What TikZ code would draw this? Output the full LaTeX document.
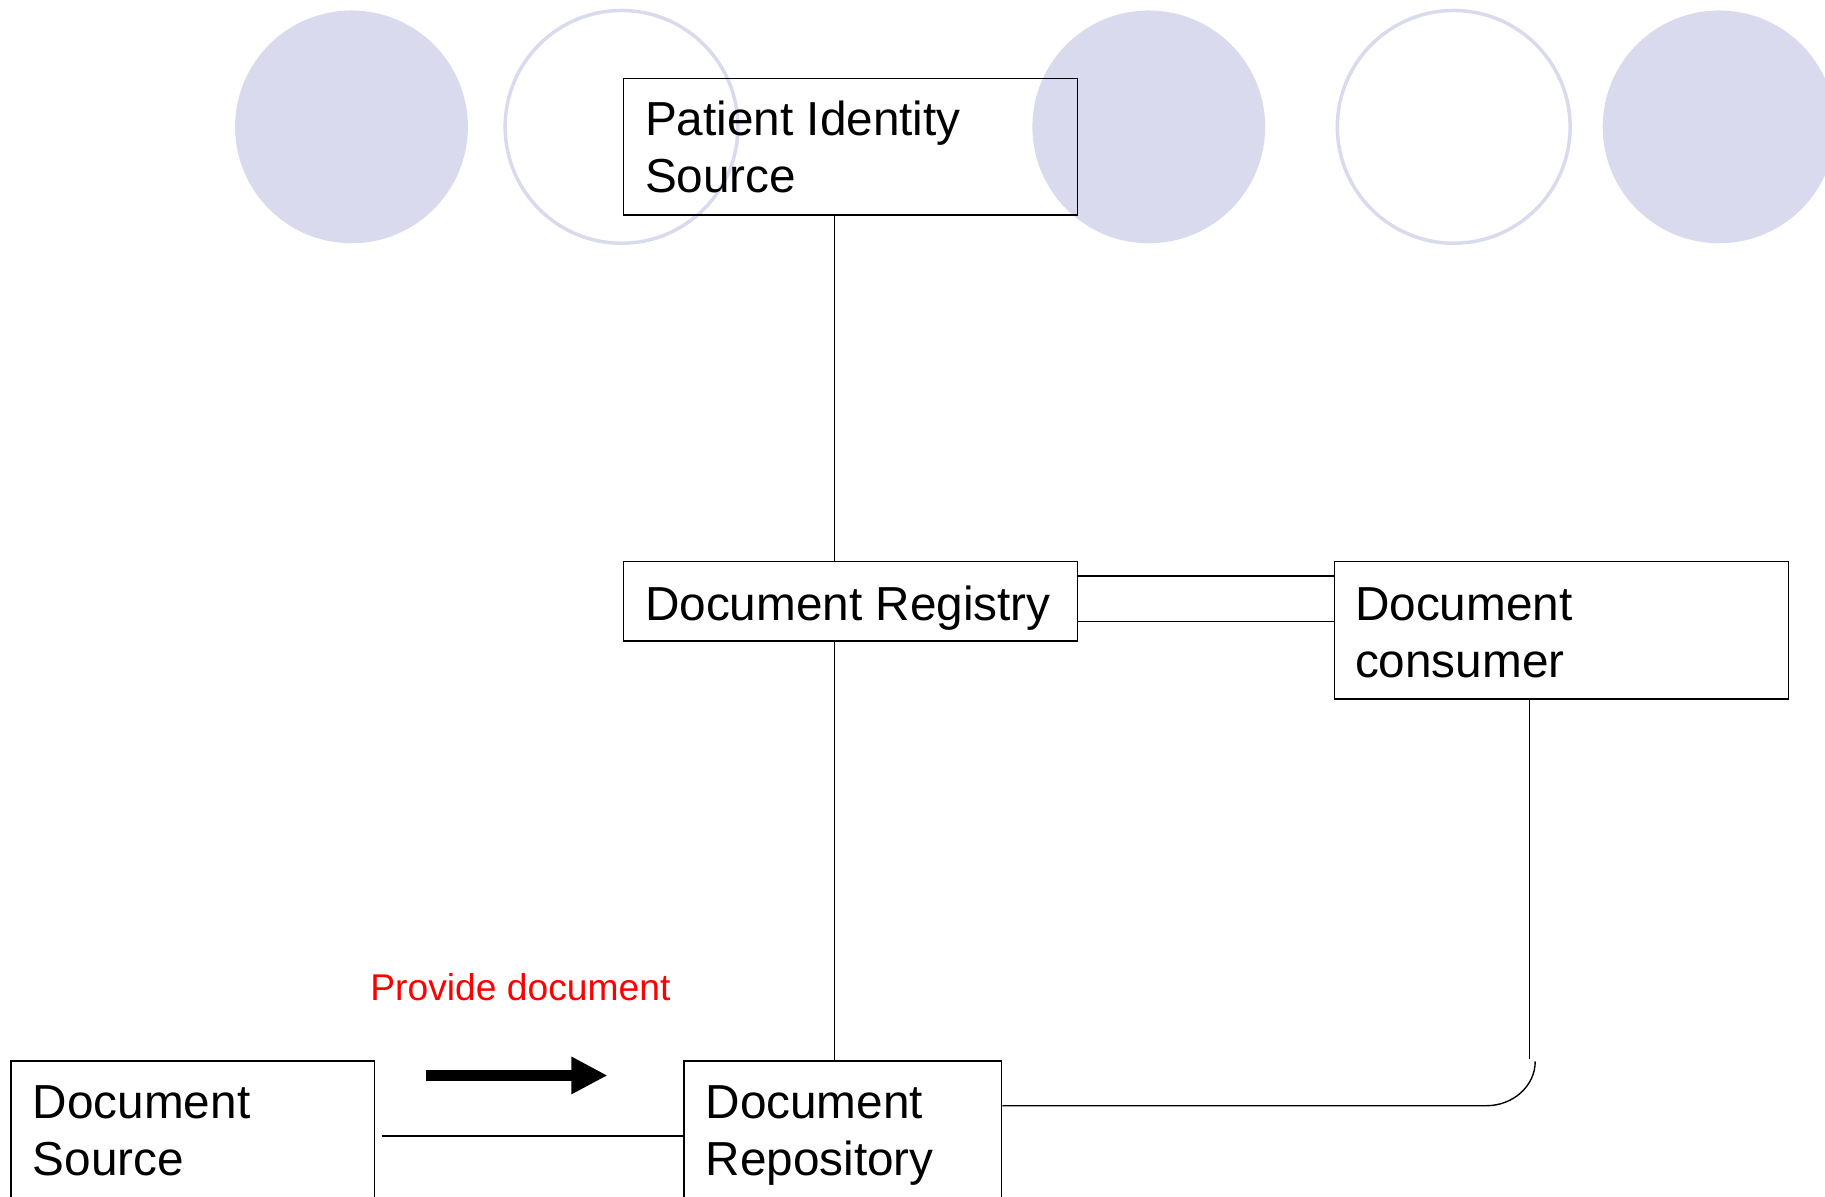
\documentclass[tikz,border=0pt]{standalone}
\usepackage{fontspec}
\setmainfont{Liberation Sans}
\usetikzlibrary{arrows.meta,calc}
\definecolor{lav}{RGB}{218,218,238}
\newcommand\mytwo[2]{\begin{tabular}[t]{@{}l@{}}#1\\#2\end{tabular}}
\begin{document}
\begin{tikzpicture}[x=1pt,y=-1pt,
  boxst/.style={draw=black,line width=1.2pt,rectangle,inner sep=0pt,anchor=north west},
  lbl/.style={anchor=base west,inner sep=0pt,font=\fontsize{41}{49}\selectfont},
  conn/.style={draw=black,line width=1.2pt},
  disk/.style={fill=lav},
  ring/.style={draw=lav,line width=3pt}]
\useasboundingbox (0,0) rectangle (1568,1028);
\clip (0,0) rectangle (1568,1028);
% decorative circles
\fill[disk] (302,109) circle (100);
\draw[ring] (534,109) circle (100);
\fill[disk] (987,109) circle (100);
\draw[ring] (1249,109) circle (100);
\fill[disk] (1477,109) circle (100);
% boxes
\node[boxst,minimum width=390,minimum height=117] (pis) at (535,67) {};
\node[lbl] at (554,116) {\mytwo{Patient Identity}{Source}};
\node[boxst,minimum width=390,minimum height=68] (reg) at (535,482) {};
\node[lbl] at (554,533) {Document Registry};
\node[boxst,minimum width=390,minimum height=118] (con) at (1146,482) {};
\node[lbl] at (1164,533) {\mytwo{Document}{consumer}};
\node[boxst,minimum width=312,minimum height=160] (src) at (9,911) {};
\node[lbl] at (28,961) {\mytwo{Document}{Source}};
\node[boxst,minimum width=273,minimum height=160] (rep) at (587,911) {};
\node[lbl] at (606,961) {\mytwo{Document}{Repository}};
% connectors
\coordinate (vx) at (717,0);
\coordinate (cx) at (1314,0);
\draw[conn] (pis.south -| vx) -- (reg.north -| vx);
\draw[conn] (reg.south -| vx) -- (rep.north -| vx);
\draw[conn] (reg.east |- 0,495) -- (con.west |- 0,495);
\draw[conn] (reg.east |- 0,534) -- (con.west |- 0,534);
\coordinate (cend) at (1314,910);
\coordinate (arcs) at (1319,912);
\coordinate (arce) at (1277,950);
\draw[conn] (con.south -| cx) -- (cend);
\draw[conn] (arcs) .. controls (1319,933) and (1300,950) .. (arce) -- (rep.east |- arce);
\draw[conn] ([xshift=6pt]src.east |- 0,976) -- (rep.west |- 0,976);
% thick arrow
\coordinate (a1) at (366,924);
\coordinate (a2) at (522,924);
\draw[line width=10pt,-{Triangle[length=31pt,width=30pt]}] (a1) -- (a2);
\node[anchor=base west,inner sep=0pt,text=red,font=\fontsize{32}{38}\selectfont] (pd) at (318,860) {Provide document};
\end{tikzpicture}
\end{document}
